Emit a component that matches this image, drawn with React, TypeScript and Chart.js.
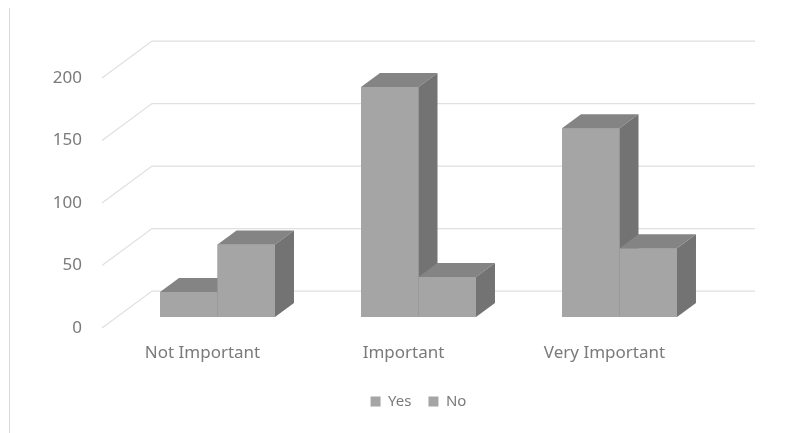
import React, { useEffect, useRef } from "react";
import { Chart, registerables } from "chart.js";

Chart.register(...registerables);

const categories = ["Not Important", "Important", "Very Important"];
const yesValues = [20, 184, 151];
const noValues = [58, 32, 55];
const yMax = 200;
const yStep = 50;

const FRONT = "#a5a5a5";
const TOP = "#848484";
const SIDE = "#737373";
const TEXT = "#7a7a7a";
const GRID = "#e0e0e0";

// perspective offsets: floor depth and bar depth
const FLOOR_DX = 50;
const FLOOR_DY = 37;
const BAR_FRONT_SHIFT = 0.3; // bar plane sits 30% into the floor depth
const BAR_DX = 19;
const BAR_DY = 14;

const perspective3d = {
  id: "perspective3d",
  beforeDatasetsDraw(chart: any) {
    const { ctx, chartArea, scales } = chart;
    const y = scales.y;
    const fx = FLOOR_DX * BAR_FRONT_SHIFT;
    const fy = FLOOR_DY * BAR_FRONT_SHIFT;
    ctx.save();
    ctx.strokeStyle = GRID;
    ctx.lineWidth = 1.3;
    y.ticks.forEach((t: any) => {
      const py = y.getPixelForValue(t.value);
      const x0 = chartArea.left - fx;
      const y0 = py + fy;
      ctx.beginPath();
      ctx.moveTo(x0, y0);
      ctx.lineTo(x0 + FLOOR_DX, y0 - FLOOR_DY);
      ctx.lineTo(chartArea.right - fx + FLOOR_DX, y0 - FLOOR_DY);
      ctx.stroke();
    });
    ctx.restore();
  },
  afterDatasetsDraw(chart: any) {
    const { ctx } = chart;
    const metas = chart.data.datasets.map((_: any, i: number) => chart.getDatasetMeta(i));
    ctx.save();
    for (let c = 0; c < categories.length; c++) {
      metas.forEach((meta: any) => {
        const bar = meta.data[c];
        if (!bar) return;
        const { x, y, base, width } = bar.getProps(["x", "y", "base", "width"], true);
        const l = x - width / 2;
        const r = x + width / 2;
        // front
        ctx.fillStyle = FRONT;
        ctx.fillRect(l, y, width, base - y);
        // top
        ctx.fillStyle = TOP;
        ctx.beginPath();
        ctx.moveTo(l, y);
        ctx.lineTo(l + BAR_DX, y - BAR_DY);
        ctx.lineTo(r + BAR_DX, y - BAR_DY);
        ctx.lineTo(r, y);
        ctx.closePath();
        ctx.fill();
        // side
        ctx.fillStyle = SIDE;
        ctx.beginPath();
        ctx.moveTo(r, y);
        ctx.lineTo(r + BAR_DX, y - BAR_DY);
        ctx.lineTo(r + BAR_DX, base - BAR_DY);
        ctx.lineTo(r, base);
        ctx.closePath();
        ctx.fill();
      });
    }
    ctx.restore();
  },
};

export default function App() {
  const canvasRef = useRef<HTMLCanvasElement | null>(null);

  useEffect(() => {
    const canvas = canvasRef.current;
    if (!canvas) return;
    const fx = FLOOR_DX * BAR_FRONT_SHIFT;
    const fy = FLOOR_DY * BAR_FRONT_SHIFT;
    const font = { family: "'Noto Sans', sans-serif", size: 17 };
    const chart = new Chart(canvas, {
      type: "bar",
      data: {
        labels: categories,
        datasets: [
          { label: "Yes", data: yesValues, backgroundColor: FRONT },
          { label: "No", data: noValues, backgroundColor: FRONT },
        ],
      },
      plugins: [perspective3d],
      options: {
        responsive: false,
        animation: false,
        events: [],
        datasets: { bar: { categoryPercentage: 0.572, barPercentage: 1 } },
        layout: { padding: { top: 67, right: 79, bottom: 14, left: 0 } },
        scales: {
          x: {
            grid: { display: false, drawTicks: false },
            border: { display: false },
            ticks: { color: TEXT, font, padding: 26, labelOffset: -fx, maxRotation: 0 },
            afterFit: (s: any) => {
              s.height = 60;
            },
          },
          y: {
            min: 0,
            max: yMax,
            grid: { display: false, drawTicks: false },
            border: { display: false },
            ticks: { stepSize: yStep, color: TEXT, font, padding: 35, labelOffset: fy },
            afterFit: (s: any) => {
              s.width = 117;
            },
          },
        },
        plugins: {
          legend: {
            position: "bottom",
            fullSize: false,
            labels: {
              boxWidth: 10,
              boxHeight: 10,
              padding: 17,
              color: TEXT,
              font: { family: "'Noto Sans', sans-serif", size: 15 },
            },
          },
          tooltip: { enabled: false },
        },
      },
    });
    return () => chart.destroy();
  }, []);

  return (
    <div style={{ position: "fixed", left: 0, top: 0, width: 799, height: 433, background: "#fff" }}>
      <div style={{ position: "absolute", left: 9, top: 8, width: 1, height: 425, background: "#d9d9d9" }} />
      <canvas ref={canvasRef} width={799} height={433} style={{ position: "absolute", left: 0, top: 0 }} />
    </div>
  );
}
